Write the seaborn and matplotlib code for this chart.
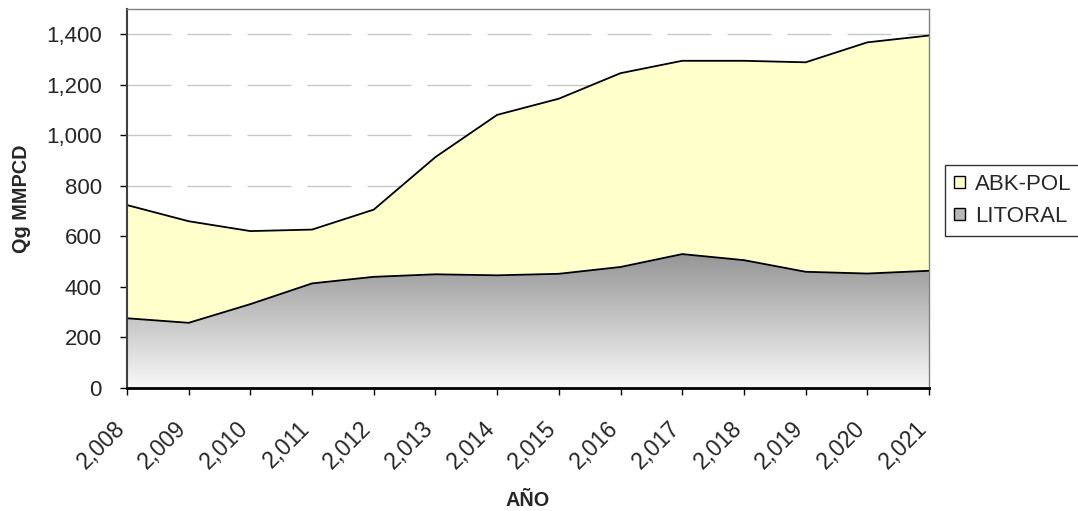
import numpy as np
import pandas as pd
import matplotlib
matplotlib.use("Agg")
import matplotlib.pyplot as plt
import matplotlib.transforms as mtransforms
import seaborn as sns
from matplotlib.patches import Patch
from matplotlib.colors import LinearSegmentedColormap

years = [2008, 2009, 2010, 2011, 2012, 2013, 2014, 2015, 2016, 2017, 2018, 2019, 2020, 2021]
litoral = [276, 258, 332, 414, 440, 450, 446, 452, 479, 530, 506, 460, 453, 464]
abk_pol = [448, 402, 289, 213, 266, 464, 635, 693, 767, 765, 789, 829, 915, 931]
year_labels = ["2,008", "2,009", "2,010", "2,011", "2,012", "2,013", "2,014",
               "2,015", "2,016", "2,017", "2,018", "2,019", "2,020", "2,021"]
y_ticks = [0, 200, 400, 600, 800, 1000, 1200, 1400]
y_tick_labels = ["0", "200", "400", "600", "800", "1,000", "1,200", "1,400"]

sns.set_style("white")
plt.rcParams['font.family'] = ['Liberation Sans', 'DejaVu Sans']
plt.rcParams['lines.scale_dashes'] = False

df = pd.DataFrame({"year": years, "LITORAL": litoral, "ABK-POL": abk_pol})
df["TOTAL"] = df["LITORAL"] + df["ABK-POL"]

fig = plt.figure(figsize=(10.78, 5.11), dpi=100)
ax = fig.add_axes([127/1078, 1-388/511, (929-127)/1078, (388-9)/511])

# grid
for yv in y_ticks[1:]:
    ax.axhline(yv, color="#c8c8c8", lw=1.0, ls=(0, (31.7, 11.5)), zorder=0)

# ABK-POL fill (stacked on LITORAL)
ax.fill_between(df["year"], df["LITORAL"], df["TOTAL"], facecolor="#ffffcc", edgecolor="none", zorder=1)

# LITORAL gradient fill
poly = ax.fill_between(df["year"], 0, df["LITORAL"], facecolor="none", edgecolor="none", zorder=2)
cmap = LinearSegmentedColormap.from_list("g", ["#f8f8f8", "#969696"])
grad = np.linspace(0, 1, 256).reshape(-1, 1)
top = df["LITORAL"].max()
im = ax.imshow(grad, cmap=cmap, origin="lower", aspect="auto",
               extent=[df["year"].min(), df["year"].max(), 0, top], zorder=2)
path = poly.get_paths()[0]
im.set_clip_path(path, transform=ax.transData)

# outlines
sns.lineplot(data=df, x="year", y="TOTAL", color="black", lw=1.3, ax=ax, zorder=3)
sns.lineplot(data=df, x="year", y="LITORAL", color="black", lw=1.3, ax=ax, zorder=3)

ax.set_xlim(2008, 2021)
ax.set_ylim(0, 1500)
ax.set_xticks(years)
ax.set_xticklabels([])
ax.set_yticks(y_ticks)
ax.set_yticklabels(y_tick_labels, fontsize=16)
ax.tick_params(axis="x", direction="out", length=5, width=1, color="black", bottom=True)
ax.tick_params(axis="y", direction="out", length=5, width=1, color="black", pad=13, left=True)

# rotated year labels, anchored just below each tick
lab_trans = ax.get_xaxis_transform() + mtransforms.ScaledTranslation(-14/100, -28.5/100, fig.dpi_scale_trans)
for yr, lab in zip(years, year_labels):
    ax.text(yr, 0, lab, transform=lab_trans, rotation=45, rotation_mode="anchor",
            ha="right", va="top", fontsize=16.5, clip_on=False)

ax.set_xlabel("AÑO", fontsize=14.3, fontweight="bold")
ax.xaxis.set_label_coords(0.5, -(491-388)/379)
ax.set_ylabel("Qg MMPCD", fontsize=14.3, fontweight="bold", labelpad=11)

for s in ["top", "right"]:
    ax.spines[s].set_color("#808080")
    ax.spines[s].set_linewidth(1.0)
ax.spines["left"].set_color("#404040")
ax.spines["left"].set_linewidth(1.5)
ax.spines["bottom"].set_color("black")
ax.spines["bottom"].set_linewidth(2.0)
for s in ax.spines.values():
    s.set_zorder(5)

handles = [Patch(facecolor="#ffffcc", edgecolor="black", lw=1.0, label="ABK-POL"),
           Patch(facecolor="#b8b8b8", edgecolor="black", lw=1.0, label="LITORAL")]
leg = fig.legend(handles=handles, loc="upper left", bbox_to_anchor=(945/1078, 1-165/511),
                 fontsize=16, frameon=True, fancybox=False, handlelength=0.5, handleheight=0.5,
                 handletextpad=0.45, borderpad=0.4, labelspacing=0.5, borderaxespad=0)
leg.get_frame().set_edgecolor("black")
leg.get_frame().set_linewidth(1.0)

fig.savefig("out.png", dpi=100)
